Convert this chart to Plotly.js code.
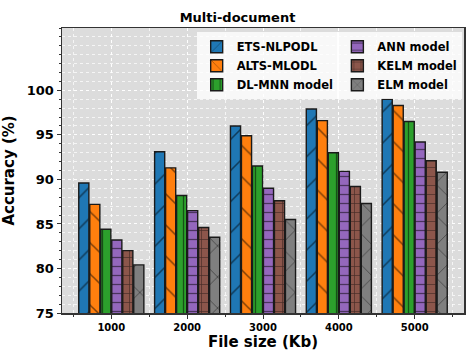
<!DOCTYPE html>
<html>
<head>
<meta charset="utf-8">
<script src="https://cdn.plot.ly/plotly-3.0.1.min.js"></script>
<style>
  html, body { margin: 0; padding: 0; background: #fff; }
  #chart { width: 475px; height: 358px; }
</style>
</head>
<body>
<div id="chart"></div>
<script>
const fileSizes = [1000, 2000, 3000, 4000, 5000];

const etsNlpodl = [89.6, 93.1, 96.0, 97.9, 99.0];
const altsMlodl = [87.2, 91.3, 94.9, 96.6, 98.3];
const dlMnn = [84.4, 88.2, 91.5, 93.0, 96.5];
const annModel = [83.2, 86.5, 89.0, 90.9, 94.2];
const kelmModel = [82.0, 84.6, 87.6, 89.2, 92.1];
const elmModel = [80.4, 83.5, 85.5, 87.3, 90.8];

const seriesNames = ["ETS-NLPODL", "ALTS-MLODL", "DL-MNN model", "ANN model", "KELM model", "ELM model"];

const font = { family: "DejaVu Sans, sans-serif", color: "#000", weight: "bold" };

function barTrace(name, values, color, shape, size, solidity, legendId) {
  return {
    type: "bar",
    name: name,
    x: fileSizes,
    y: values,
    legend: legendId,
    marker: {
      color: color,
      line: { color: "#1a1a1a", width: 1.4 },
      pattern: { shape: shape, fillmode: "overlay", fgcolor: "#000", size: size, solidity: solidity }
    },
    hoverinfo: "x+y+name"
  };
}

const data = [
  barTrace(seriesNames[0], etsNlpodl, "#1f77b4", "/", 22, 0.07, "legend"),
  barTrace(seriesNames[1], altsMlodl, "#ff7f0e", "\\", 22, 0.07, "legend"),
  barTrace(seriesNames[2], dlMnn, "#2ca02c", "|", 9, 0.14, "legend"),
  barTrace(seriesNames[3], annModel, "#9467bd", "-", 9, 0.14, "legend2"),
  barTrace(seriesNames[4], kelmModel, "#8c564b", "+", 9, 0.14, "legend2"),
  barTrace(seriesNames[5], elmModel, "#7f7f7f", "x", 22, 0.07, "legend2")
];

const legendFont = Object.assign({}, font, { size: 11.5 });

const layout = {
  width: 475,
  height: 358,
  margin: { l: 62, r: 11, t: 28, b: 45 },
  paper_bgcolor: "#ffffff",
  plot_bgcolor: "#dcdcdc",
  font: font,
  title: {
    text: "Multi-document",
    font: Object.assign({}, font, { size: 13 }),
    x: 0.5, xanchor: "center",
    y: 0.965, yanchor: "top"
  },
  barmode: "group",
  bargap: 0.13,
  bargroupgap: 0.08,
  showlegend: true,
  legend: {
    x: 0.335, y: 0.985, xanchor: "left", yanchor: "top",
    bgcolor: "rgba(255,255,255,0.8)",
    font: legendFont,
    itemwidth: 30,
    tracegroupgap: 0
  },
  legend2: {
    x: 0.685, y: 0.985, xanchor: "left", yanchor: "top",
    bgcolor: "rgba(255,255,255,0.8)",
    font: legendFont,
    itemwidth: 30,
    tracegroupgap: 0
  },
  xaxis: {
    range: [350, 5650],
    tickvals: fileSizes,
    ticktext: fileSizes.map(String),
    tickfont: Object.assign({}, font, { size: 10 }),
    ticks: "outside",
    ticklen: 4,
    tickcolor: "#333",
    showgrid: true,
    gridcolor: "rgba(255,255,255,0.9)",
    griddash: "dot",
    gridwidth: 1,
    minor: { dtick: 500, tick0: 500, ticks: "outside", ticklen: 2, tickcolor: "#333", showgrid: true, gridcolor: "rgba(255,255,255,0.7)", griddash: "dot" },
    showline: true,
    linecolor: "#333",
    linewidth: 1.5,
    mirror: true,
    zeroline: false,
    title: { text: "File size (Kb)", font: Object.assign({}, font, { size: 15 }), standoff: 4 }
  },
  yaxis: {
    range: [75, 107],
    tickvals: [75, 80, 85, 90, 95, 100],
    tickfont: Object.assign({}, font, { size: 13 }),
    ticks: "outside",
    ticklen: 4,
    tickcolor: "#333",
    showgrid: true,
    gridcolor: "rgba(255,255,255,0.9)",
    griddash: "dot",
    gridwidth: 1,
    minor: { dtick: 1, ticks: "outside", ticklen: 2, tickcolor: "#333", showgrid: true, gridcolor: "rgba(255,255,255,0.7)", griddash: "dot" },
    showline: true,
    linecolor: "#333",
    linewidth: 1.5,
    mirror: true,
    zeroline: false,
    title: { text: "Accuracy (%)", font: Object.assign({}, font, { size: 15 }), standoff: 8 }
  }
};

Plotly.newPlot("chart", data, layout, { displayModeBar: false, staticPlot: true });
</script>
</body>
</html>
